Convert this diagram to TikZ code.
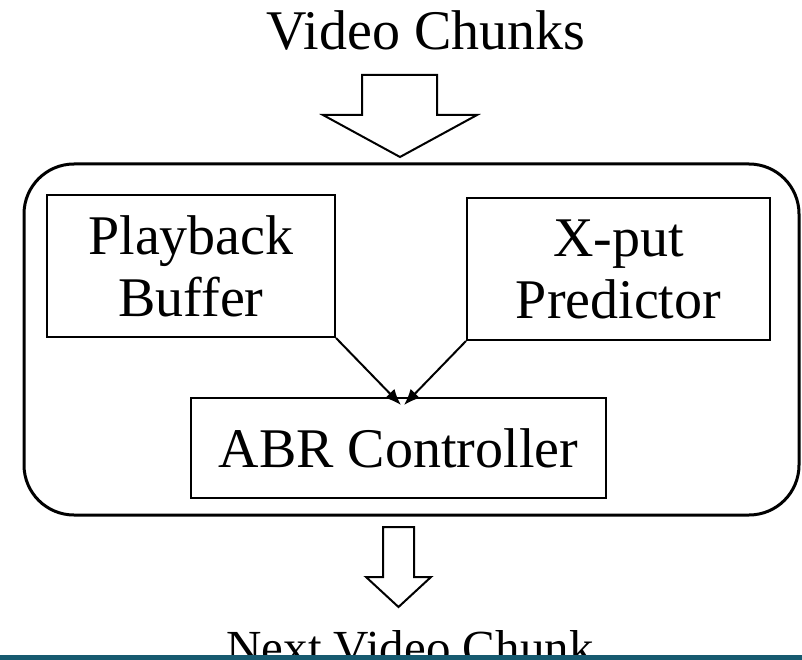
\documentclass[tikz,border=0pt]{standalone}
\usepackage{fontspec}
\setmainfont{Liberation Serif}
\usetikzlibrary{arrows.meta}
\definecolor{barteal}{RGB}{22,90,112}
\begin{document}
\begin{tikzpicture}[x=1pt,y=-1pt,
  lbl/.style={font=\fontsize{56}{62}\selectfont, align=center, inner sep=0pt},
  unit/.style={draw, line width=2pt, inner sep=0pt, align=center,
               font=\fontsize{56}{62}\selectfont},
  flow/.style={line width=2pt, -{Latex[length=16pt,width=13pt]}},
  bigarrow/.style={draw, line width=2pt, fill=white, line join=miter}]
\useasboundingbox (0,0) rectangle (802,660);

% client enclosure
\node[draw, line width=3pt, rounded corners=50pt,
      minimum width=775pt, minimum height=351pt] (client) at (411.5,339.5) {};

% components
\node[unit, minimum width=288pt, minimum height=142pt] (buf) at (191,266) {Playback\\Buffer};
\node[unit, minimum width=303pt, minimum height=142pt] (pred) at (618.5,269) {X-put\\Predictor};
\node[unit, minimum width=415pt, minimum height=100pt] (abr) at (398.5,448) {ABR Controller};

\coordinate (inL) at (401,405);
\coordinate (inR) at (404,405);
\draw[flow] (buf.south east) -- (inL);
\draw[flow] (pred.south west) -- (inR);

% input
\node[lbl, anchor=base] (src) at (426,50) {Video Chunks};
\draw[bigarrow] (362,75) -- (437,75) -- (437,115) -- (477,115) -- (400,157)
  -- (323,115) -- (362,115) -- cycle;

% output
\draw[bigarrow] (383,527) -- (414,527) -- (414,577) -- (431,577) -- (398.5,607)
  -- (366,577) -- (383,577) -- cycle;
\node[lbl, font=\fontsize{49}{56}\selectfont, anchor=base] (dst) at (410,664) {Next Video Chunk};

% footer strip
\fill[barteal] (0,655) rectangle (802,660);
\end{tikzpicture}
\end{document}
